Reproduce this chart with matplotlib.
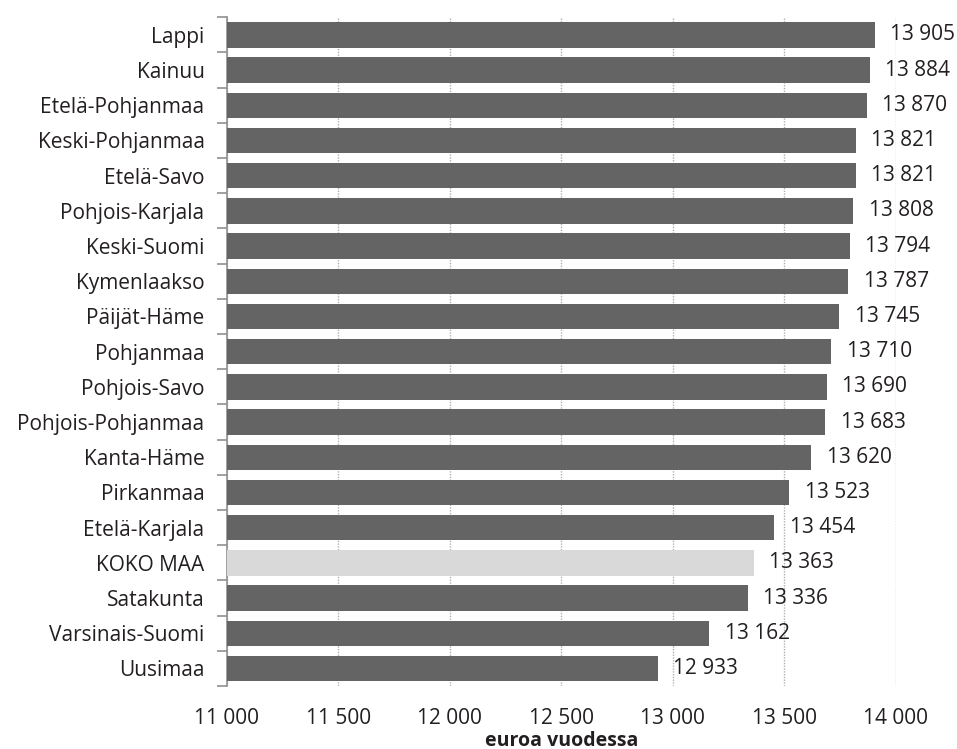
import matplotlib
matplotlib.use("Agg")
import matplotlib.pyplot as plt
from matplotlib.ticker import FixedLocator, NullFormatter

regions = ["Lappi", "Kainuu", "Etelä-Pohjanmaa", "Keski-Pohjanmaa", "Etelä-Savo",
           "Pohjois-Karjala", "Keski-Suomi", "Kymenlaakso", "Päijät-Häme", "Pohjanmaa",
           "Pohjois-Savo", "Pohjois-Pohjanmaa", "Kanta-Häme", "Pirkanmaa", "Etelä-Karjala",
           "KOKO MAA", "Satakunta", "Varsinais-Suomi", "Uusimaa"]
values = [13905, 13884, 13870, 13821, 13821, 13808, 13794, 13787, 13745, 13710,
          13690, 13683, 13620, 13523, 13454, 13363, 13336, 13162, 12933]
xticks = [11000, 11500, 12000, 12500, 13000, 13500, 14000]

plt.rcParams['font.family'] = ['Open Sans', 'DejaVu Sans']

def fmt(v):
    return f"{v:,}".replace(",", " ")

fig = plt.figure(figsize=(9.57, 7.49), dpi=100)
ax = fig.add_axes([0.237, 0.084, 0.699, 0.893])

n = len(regions)
ypos = list(range(n))
colors = ["#d9d9d9" if r == "KOKO MAA" else "#646464" for r in regions]
ax.barh(ypos, [v - 11000 for v in values], left=11000, height=0.72, color=colors, zorder=3)
for y, v in zip(ypos, values):
    ax.text(v + 70, y, fmt(v), va="center", ha="left", fontsize=15, color="#231f20", zorder=4)

ax.set_ylim(n - 0.5, -0.5)
ax.set_xlim(11000, 14000)
ax.set_yticks(ypos)
ax.set_yticklabels(regions, fontsize=15, color="#231f20")
ax.yaxis.set_minor_locator(FixedLocator([i - 0.5 for i in range(n + 1)]))
ax.yaxis.set_minor_formatter(NullFormatter())
ax.tick_params(axis="y", which="major", length=0, pad=16)
ax.tick_params(axis="y", which="minor", length=7, color="#909090", width=1.2)
ax.set_xticks(xticks)
ax.set_xticklabels([fmt(t) for t in xticks], fontsize=15, color="#231f20")
ax.tick_params(axis="x", length=0, pad=16)
ax.xaxis.grid(True, linestyle=(0, (1, 1)), color="#b0b0b0", linewidth=1, zorder=0)
for s in ["top", "right", "bottom"]:
    ax.spines[s].set_visible(False)
ax.spines["left"].set_color("#909090")
ax.spines["left"].set_linewidth(1.2)
ax.set_xlabel("euroa vuodessa", fontsize=14, fontweight="bold", labelpad=1, color="#231f20")

fig.savefig("out.png", dpi=100)
